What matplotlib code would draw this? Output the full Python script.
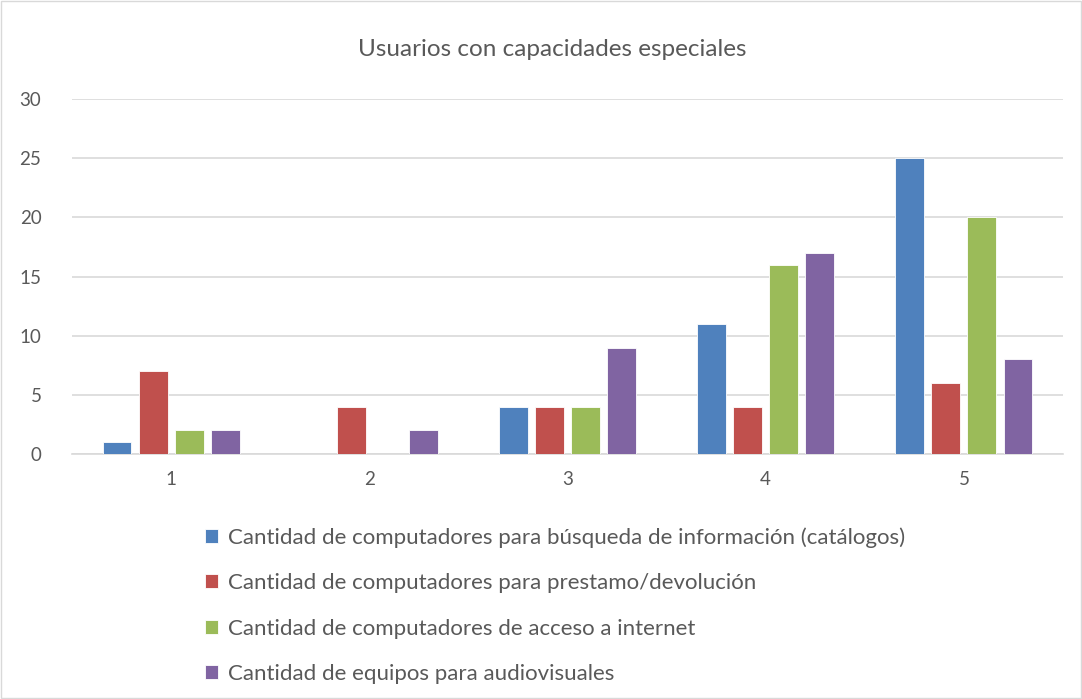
import matplotlib
matplotlib.use("Agg")
import matplotlib.pyplot as plt
import numpy as np
from matplotlib.patches import Rectangle

plt.rcParams['font.family'] = ['Lato', 'DejaVu Sans']

categorias = ["1", "2", "3", "4", "5"]
series = [
    "Cantidad de computadores para búsqueda de información (catálogos)",
    "Cantidad de computadores para prestamo/devolución",
    "Cantidad de computadores de acceso a internet",
    "Cantidad de equipos para audiovisuales",
]
busqueda = [1, 0, 4, 11, 25]
prestamo = [7, 4, 4, 4, 6]
internet = [2, 0, 4, 16, 20]
audiovisual = [2, 2, 9, 17, 8]
colores = ["#4F81BD", "#C0504D", "#9BBB59", "#8064A2"]

fig = plt.figure(figsize=(10.82, 6.99), dpi=100)
ax = fig.add_axes([72 / 1082, 1 - 454 / 699, (1063 - 72) / 1082, (454 - 99) / 699])

x = np.arange(1, len(categorias) + 1)
ancho = 0.146
paso = 0.182
valores = [busqueda, prestamo, internet, audiovisual]
for i, (v, c, s) in enumerate(zip(valores, colores, series)):
    ax.bar(x + (i - 1.5) * paso, v, width=ancho, color=c, edgecolor="white",
           linewidth=0.6, label=s, zorder=3)

ax.set_xlim(0.5, 5.5)
ax.set_ylim(0, 30)
ax.set_yticks(range(0, 31, 5))
ax.set_xticks(x)
ax.set_xticklabels(categorias)
ax.yaxis.grid(True, color="#D9D9D9", linewidth=1.2, zorder=0)
for s in ["top", "right", "left"]:
    ax.spines[s].set_visible(False)
ax.spines["bottom"].set_color("#D9D9D9")
ax.spines["bottom"].set_linewidth(1.2)
ax.tick_params(length=0, colors="#595959", labelsize=13.5)
ax.tick_params(axis="x", pad=12)
ax.tick_params(axis="y", pad=22)

fig.text(552 / 1082, 1 - 50 / 699, "Usuarios con capacidades especiales",
         ha="center", va="center", fontsize=17.5, color="#595959")

fig.legend(loc="upper left", bbox_to_anchor=(185 / 1082, 1 - 507 / 699),
           frameon=False, fontsize=16, handlelength=0.6, handleheight=0.6,
           handletextpad=0.45, labelspacing=1.15, labelcolor="#595959")

fig.patches.append(Rectangle((0.001, 0.001), 0.998, 0.998, transform=fig.transFigure,
                             fill=False, edgecolor="#D9D9D9", linewidth=1))

fig.savefig("out.png", dpi=100)
